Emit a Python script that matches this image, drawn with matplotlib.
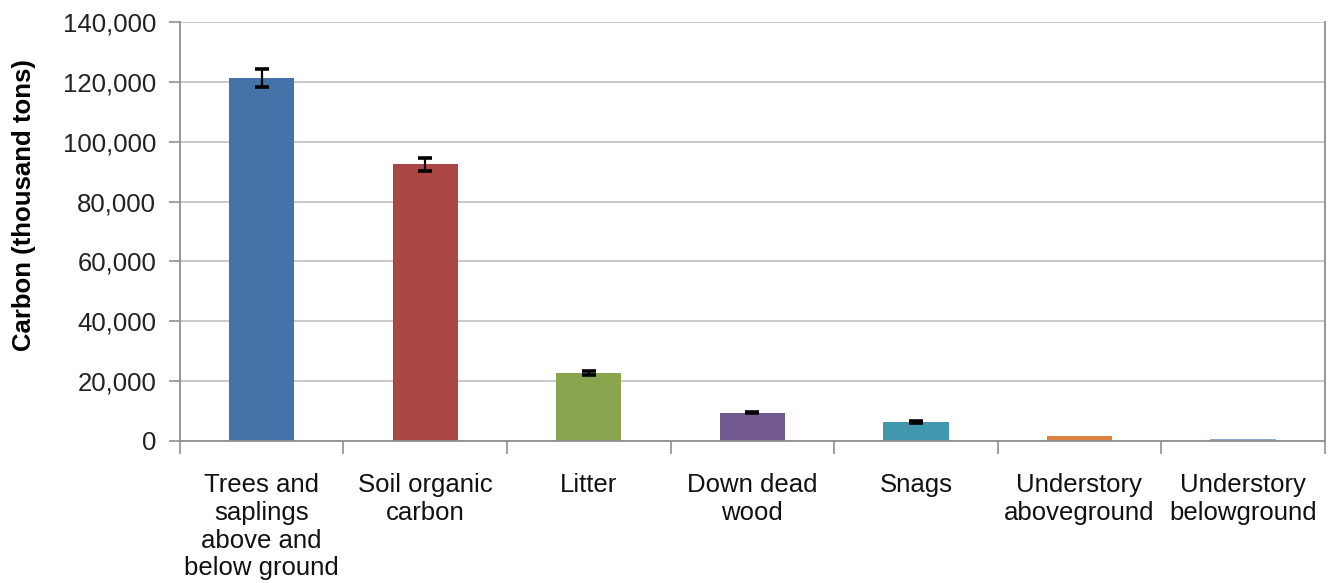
import numpy as np
import matplotlib.pyplot as plt
from matplotlib.ticker import FuncFormatter

plt.rcParams['font.family'] = ['Liberation Sans', 'DejaVu Sans']

categories = ["Trees and\nsaplings\nabove and\nbelow ground", "Soil organic\ncarbon", "Litter",
              "Down dead\nwood", "Snags", "Understory\naboveground", "Understory\nbelowground"]
carbon = [121200, 92500, 22800, 9500, 6400, 1800, 500]
errors = [3000, 2200, 600, 300, 300, 0, 0]
colors = ["#4572A7", "#AA4643", "#89A54E", "#71588F", "#4198AF", "#DB843D", "#93A9CF"]

fig = plt.figure(figsize=(13.3, 5.83), dpi=100)
ax = fig.add_axes([0.1353, 0.2436, 0.8607, 0.7187])

x = np.arange(len(categories))
ax.bar(x, carbon, width=0.4, color=colors, zorder=2)
ax.errorbar(x[:5], carbon[:5], yerr=errors[:5], fmt='none', ecolor='black',
            elinewidth=1.6, capsize=5, capthick=2.6, zorder=3)

ax.set_xlim(-0.5, len(categories) - 0.5)
ax.set_ylim(0, 140000)
ax.set_yticks(np.arange(0, 140001, 20000))
ax.yaxis.set_major_formatter(FuncFormatter(lambda v, p: f"{int(v):,}"))
ax.grid(axis='y', color='#c0c0c0', linewidth=1.2, zorder=0)

ax.set_xticks(x)
ax.set_xticklabels(categories, fontsize=18.5, linespacing=1.2, color='#111111')
ax.set_xticks(np.arange(-0.5, len(categories)), minor=True)
ax.tick_params(axis='x', which='major', length=0, pad=23)
ax.tick_params(axis='x', which='minor', length=9, color='#909090', width=1.2)
ax.tick_params(axis='y', length=8, color='#909090', width=1.2, labelsize=18.5,
               labelcolor='#222222', pad=9)

ax.set_ylabel("Carbon (thousand tons)", fontsize=18.5, fontweight='bold')
ax.yaxis.set_label_coords(-0.126, 0.563)

for side in ['left', 'bottom', 'right']:
    ax.spines[side].set_color('#909090')
    ax.spines[side].set_linewidth(1.3)
ax.spines['top'].set_visible(False)

fig.savefig("out.png", dpi=100)
